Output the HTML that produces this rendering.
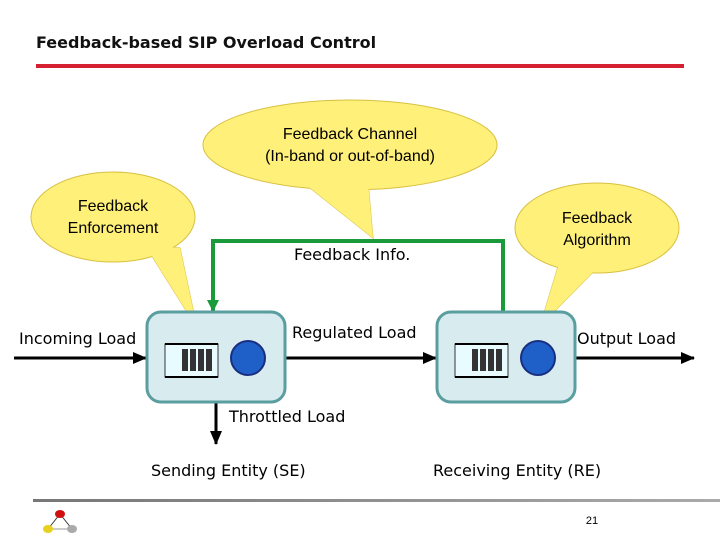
<!DOCTYPE html>
<html><head><style>body{margin:0;background:#fff}</style></head><body>
<svg width="720" height="540" xmlns="http://www.w3.org/2000/svg" font-family="DejaVu Sans, sans-serif">
<text x="36" y="48" font-size="16" font-weight="bold" fill="#111">Feedback-based SIP Overload Control</text>
<rect x="36" y="64" width="648" height="4" fill="#d42030"/>
<defs>
<marker id="a" markerWidth="14" markerHeight="12" refX="13" refY="6" orient="auto" markerUnits="userSpaceOnUse"><path d="M0,0L14,6L0,12z" fill="#000"/></marker>
<marker id="g" markerWidth="14" markerHeight="12" refX="12" refY="6" orient="auto" markerUnits="userSpaceOnUse"><path d="M0,0L12,6L0,12z" fill="#1a9a3a"/></marker>
</defs>
<polyline points="503,311 503,241 213,241 213,312" fill="none" stroke="#1a9a3a" stroke-width="4" marker-end="url(#g)"/>
<g fill="#fff07a" stroke="#d8c040" stroke-width="1">
<path d="M300,180 L373,238 L368,182 Z"/>
<ellipse cx="350" cy="145" rx="147" ry="45"/>
<path d="M145,245 L197,328 L180,248 Z"/>
<ellipse cx="113" cy="217" rx="82" ry="45"/>
<path d="M560,260 L540,326 L600,265 Z"/>
<ellipse cx="597" cy="228" rx="82" ry="45"/>
</g>
<g fill="#fff07a"><path d="M300,180 L373,238 L368,182 Z"/><path d="M145,245 L197,328 L180,248 Z"/><path d="M560,260 L540,326 L600,265 Z"/></g>
<g font-family="Liberation Sans, sans-serif" font-size="16" text-anchor="middle" fill="#000">
<text x="350" y="139">Feedback Channel</text><text x="350" y="161">(In-band or out-of-band)</text>
<text x="113" y="211">Feedback</text><text x="113" y="233">Enforcement</text>
<text x="597" y="223">Feedback</text><text x="597" y="245">Algorithm</text>
</g>
<g stroke="#000" stroke-width="3">
<line x1="14" y1="358" x2="146" y2="358" marker-end="url(#a)"/>
<line x1="285" y1="358" x2="436" y2="358" marker-end="url(#a)"/>
<line x1="575" y1="358" x2="694" y2="358" marker-end="url(#a)"/>
<line x1="216" y1="402" x2="216" y2="444" marker-end="url(#a)"/>
</g>
<g>
<rect x="147" y="312" width="138" height="90" rx="14" fill="#d8ecf0" stroke="#5a9ea0" stroke-width="3"/>
<rect x="165" y="344" width="53" height="33" fill="#e8fbff" stroke="#333" stroke-width="1"/>
<line x1="165" y1="344" x2="218" y2="344" stroke="#000" stroke-width="2"/><line x1="165" y1="377" x2="218" y2="377" stroke="#000" stroke-width="2"/>
<g fill="#333"><rect x="182" y="349" width="6" height="22"/><rect x="190" y="349" width="6" height="22"/><rect x="198" y="349" width="6" height="22"/><rect x="206" y="349" width="6" height="22"/></g>
<circle cx="248" cy="358" r="17" fill="#1e60c8" stroke="#1a2e80" stroke-width="2"/>
</g>
<g transform="translate(290,0)">
<rect x="147" y="312" width="138" height="90" rx="14" fill="#d8ecf0" stroke="#5a9ea0" stroke-width="3"/>
<rect x="165" y="344" width="53" height="33" fill="#e8fbff" stroke="#333" stroke-width="1"/>
<line x1="165" y1="344" x2="218" y2="344" stroke="#000" stroke-width="2"/><line x1="165" y1="377" x2="218" y2="377" stroke="#000" stroke-width="2"/>
<g fill="#333"><rect x="182" y="349" width="6" height="22"/><rect x="190" y="349" width="6" height="22"/><rect x="198" y="349" width="6" height="22"/><rect x="206" y="349" width="6" height="22"/></g>
<circle cx="248" cy="358" r="17" fill="#1e60c8" stroke="#1a2e80" stroke-width="2"/>
</g>
<g font-size="16" fill="#000">
<text x="294" y="260">Feedback Info.</text>
<text x="19" y="344">Incoming Load</text>
<text x="292" y="338">Regulated Load</text>
<text x="577" y="344">Output Load</text>
<text x="229" y="422">Throttled Load</text>
<text x="151" y="476">Sending Entity (SE)</text>
<text x="433" y="476">Receiving Entity (RE)</text>
</g>
<defs><linearGradient id="l"><stop offset="0" stop-color="#777"/><stop offset="1" stop-color="#aaa"/></linearGradient></defs>
<rect x="33" y="499" width="687" height="3" fill="url(#l)"/>
<line x1="60" y1="514" x2="48" y2="529" stroke="#333"/><line x1="60" y1="514" x2="72" y2="529" stroke="#333"/><line x1="48" y1="529" x2="72" y2="529" stroke="#999"/>
<ellipse cx="60" cy="514" rx="5" ry="4" fill="#d01010"/><ellipse cx="48" cy="529" rx="5" ry="4" fill="#e8d020"/><ellipse cx="72" cy="529" rx="5" ry="4" fill="#aaa"/>
<text x="592" y="524" font-size="11" text-anchor="middle" font-family="Liberation Sans, sans-serif">21</text>
</svg>
</body></html>
